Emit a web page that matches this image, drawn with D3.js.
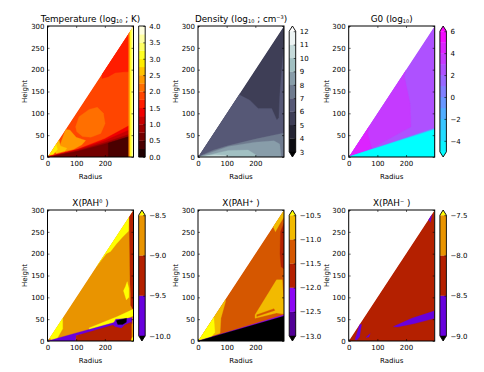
<!DOCTYPE html>
<html>
<head>
<meta charset="utf-8">
<script src="https://cdn.jsdelivr.net/npm/d3@7"></script>
<style>
  html, body { margin: 0; padding: 0; background: #fff; }
  text { font-family: "DejaVu Sans", sans-serif; fill: #000; }
</style>
</head>
<body>
<svg id="fig" width="484" height="372"></svg>
<script>
// axis ticks shared by all six panels
var radiusTicks = [0, 100, 200];
var heightTicks = [0, 50, 100, 150, 200, 250, 300];

// contour levels and colorbar labels for each quantity
var tempLevels = [0, 0.25, 0.5, 0.75, 1, 1.25, 1.5, 1.75, 2, 2.25, 2.5, 2.75, 3, 3.25, 3.5, 3.75, 4];
var tempTicks = [0, 0.5, 1, 1.5, 2, 2.5, 3, 3.5, 4];
var tempLabels = ["0.0", "0.5", "1.0", "1.5", "2.0", "2.5", "3.0", "3.5", "4.0"];
var densLevels = [3, 4, 5, 6, 7, 8, 9, 10, 11, 12];
var densTicks = [3, 4, 5, 6, 7, 8, 9, 10, 11, 12];
var densLabels = ["3", "4", "5", "6", "7", "8", "9", "10", "11", "12"];
var g0Levels = [-5, -4, -3, -2, -1, 0, 1, 2, 3, 4, 5, 6];
var g0Ticks = [-4, -2, 0, 2, 4, 6];
var g0Labels = ["\u22124", "\u22122", "0", "2", "4", "6"];
var pah0Levels = [-10, -9.5, -9, -8.5];
var pah0Labels = ["\u221210.0", "\u22129.5", "\u22129.0", "\u22128.5"];
var pahpLevels = [-13, -12.5, -12, -11.5, -11, -10.5];
var pahpLabels = ["\u221213.0", "\u221212.5", "\u221212.0", "\u221211.5", "\u221211.0", "\u221210.5"];
var pahmLevels = [-9, -8.5, -8, -7.5];
var pahmLabels = ["\u22129.0", "\u22128.5", "\u22128.0", "\u22127.5"];

// contour regions: [value, [[radius, height], ...]], painted in order
var tempRegions = [
  [1.9, [[0, 0], [300, 300], [300, 0]]],
  [1.6, [[190, 190], [285, 285], [285, 195], [268, 195], [236, 193], [212, 184], [190, 180]]],
  [2.1, [[98, 69], [110, 92], [145, 109], [174, 114], [195, 100], [201, 77], [186, 54], [151, 45], [122, 47], [102, 58]]],
  [2.4, [[63, 63], [78, 62], [100, 45], [133, 38], [120, 28], [90, 17], [60, 13], [40, 20]]],
  [2.6, [[20, 20], [40, 40], [45, 25], [68, 20], [60, 13], [30, 8]]],
  [2.9, [[4, 4], [30, 30], [35, 17], [20, 6]]],
  [1.4, [[0, 0], [105, 18], [200, 42], [285, 72], [285, 40]]],
  [1.1, [[0, 0], [105, 17], [200, 38], [285, 62], [285, 40]]],
  [0.9, [[0, 0], [105, 15], [200, 33], [285, 52], [285, 0], [5, 0]]],
  [0.6, [[25, 3], [105, 13], [200, 30], [285, 47], [285, 0], [20, 0]]],
  [0.4, [[212, 0], [212, 32], [285, 47], [285, 0]]],
  [2.4, [[283, 0], [283, 283], [300, 300], [300, 0]]],
  [3.1, [[288, 0], [288, 288], [300, 300], [300, 0]]],
  [3.6, [[294, 0], [294, 294], [300, 300], [300, 0]]]
];
var densRegions = [
  [5.5, [[0, 0], [300, 300], [300, 0]]],
  [6.5, [[0, 0], [146, 146], [146, 142], [181, 130], [210, 111], [257, 111], [275, 85], [282, 90], [285, 140], [292, 200], [300, 260], [300, 0]]],
  [7.5, [[0, 0], [50, 15], [100, 25], [150, 33], [200, 41], [250, 48], [300, 55], [300, 0]]],
  [8.5, [[10, 2], [60, 14], [106, 24], [199, 34], [265, 37], [285, 30], [290, 0], [10, 0]]],
  [9.5, [[20, 1], [60, 8], [106, 15], [175, 16], [200, 6], [205, 0]]],
  [10.5, [[8, 1], [60, 5], [95, 4], [110, 0], [5, 0]]]
];
var g0Regions = [
  [2.5, [[0, 0], [300, 300], [300, 0]]],
  [3.5, [[0, 0], [200, 200], [194, 185], [214, 123], [217, 69], [80, 20]]],
  [4.5, [[0, 0], [70, 70], [66, 54], [80, 20]]],
  [1.5, [[0, 0], [300, 67], [300, 0]]],
  [0.5, [[0, 0], [300, 66], [300, 0]]],
  [-0.5, [[0, 0], [300, 65], [300, 0]]],
  [-2.5, [[0, 0], [300, 64], [300, 0]]],
  [-4.5, [[0, 0], [300, 63], [300, 0]]],
  [-6, [[0, 0], [300, 62], [300, 0]]]
];
var pah0Regions = [
  [-8.75, [[0, 0], [300, 300], [300, 0]]],
  [-8, [[170, 170], [285, 285], [283, 252], [262, 238], [240, 222], [220, 205], [205, 200]]],
  [-9.25, [[285, 285], [300, 300], [300, 70], [290, 82], [290, 110], [288, 130], [287, 200]]],
  [-8, [[278, 136], [284, 120], [284, 100], [275, 94], [265, 115], [272, 125]]],
  [-8, [[8, 8], [53, 53], [53, 28], [33, 5], [14, 1]]],
  [-8, [[145, 30], [244, 56], [300, 73], [300, 58], [244, 44], [145, 26]]],
  [-9.75, [[0, 0], [295, 54], [295, 40], [100, 12], [98, 0]]],
  [-9.25, [[100, 0], [100, 12], [220, 35], [293, 47], [293, 0]]],
  [-9.75, [[238, 50], [293, 52], [293, 44], [270, 38], [258, 30], [235, 33], [228, 38]]],
  [-11, [[240, 47], [276, 52], [275, 43], [262, 38], [245, 38]]],
  [-8, [[292, 0], [300, 0], [300, 8], [295, 8]]]
];
var pahpRegions = [
  [-11.25, [[0, 0], [300, 300], [300, 0]]],
  [-10.75, [[0, 0], [96, 96], [96, 90], [80, 52], [77, 18]]],
  [-10, [[0, 0], [55, 55], [59, 20], [40, 4]]],
  [-10.75, [[199, 60], [274, 140], [294, 140], [300, 82], [300, 62], [274, 64], [199, 52]]],
  [-11.25, [[205, 60], [265, 74], [268, 70], [205, 56]]],
  [-11.75, [[288, 250], [300, 270], [300, 165], [290, 170], [286, 200]]],
  [-10.75, [[262, 262], [300, 300], [300, 284], [285, 268], [270, 250]]],
  [-12.25, [[0, 0], [300, 60], [300, 0]]],
  [-14, [[0, 0], [300, 57], [300, 0]]]
];
var pahmRegions = [
  [-8.25, [[0, 0], [300, 300], [300, 0]]],
  [-8.75, [[22, 3], [38, 38], [45, 38], [38, 10], [28, 2]]],
  [-8.75, [[156, 33], [220, 52], [300, 69], [300, 52], [230, 40], [170, 32]]],
  [-8.75, [[278, 278], [290, 290], [285, 272]]],
  [-8.75, [[60, 8], [75, 17], [70, 9]]]
];

// matplotlib colormaps
var hot = d3.scaleLinear().domain([0, 0.365, 0.746, 1]).range(["#0b0000", "#ff0000", "#ffff00", "#ffffff"]);
var bone = d3.scaleLinear().domain([0, 0.365, 0.746, 1]).range(["#000000", "#515171", "#a6c7c7", "#ffffff"]);
var cool = d3.scaleLinear().domain([0, 1]).range(["#00ffff", "#ff00ff"]);
function gnuplot(t) {
  return d3.rgb(255 * Math.sqrt(t), 255 * t * t * t, 255 * Math.max(0, Math.sin(2 * Math.PI * t))).formatRgb();
}

// size of the axes, colorbars sit 5 px right of them
var axW = 86, axH = 131;
var colX = [47.5, 198, 348.7];
var rowY = [26, 210];
var cbW = 6.5;

var panels = [
  { col: 0, row: 0, title: [["Temperature (log", 0], ["10", 1], [" ; K)", 0]], levels: tempLevels, ticks: tempTicks, labels: tempLabels, regions: tempRegions, cmap: hot, extend: false },
  { col: 1, row: 0, title: [["Density (log", 0], ["10", 1], [" ; cm", 0], ["\u22123", -1], [")", 0]], levels: densLevels, ticks: densTicks, labels: densLabels, regions: densRegions, cmap: bone, extend: true, under: "#000000", over: "#ffffff" },
  { col: 2, row: 0, title: [["G0 (log", 0], ["10", 1], [")", 0]], levels: g0Levels, ticks: g0Ticks, labels: g0Labels, regions: g0Regions, cmap: cool, extend: true, under: "#00ffff", over: "#ff00ff" },
  { col: 0, row: 1, title: [["X(PAH", 0], ["0", -1], [" )", 0]], levels: pah0Levels, ticks: pah0Levels, labels: pah0Labels, regions: pah0Regions, cmap: gnuplot, extend: true, under: "#000000", over: "#ffff00" },
  { col: 1, row: 1, title: [["X(PAH", 0], ["+", -1], [" )", 0]], levels: pahpLevels, ticks: pahpLevels, labels: pahpLabels, regions: pahpRegions, cmap: gnuplot, extend: true, under: "#000000", over: "#ffff00" },
  { col: 2, row: 1, title: [["X(PAH", 0], ["\u2212", -1], [" )", 0]], levels: pahmLevels, ticks: pahmLevels, labels: pahmLabels, regions: pahmRegions, cmap: gnuplot, extend: true, under: "#000000", over: "#ffff00" }
];

var svg = d3.select("#fig");
var line = d3.line();

// the simulated domain is the triangle under the diagonal
var x = d3.scaleLinear().domain([0, 300]).range([0, axW]);
var y = d3.scaleLinear().domain([0, 300]).range([axH, 0]);
svg.append("defs").append("clipPath").attr("id", "tri")
  .append("path")
  .attr("d", line([[0, 0], [300, 300], [300, 0]].map(function(d) { return [x(d[0]), y(d[1])]; })) + "Z");

panels.forEach(function(p, i) {
  var g = svg.append("g")
    .attr("transform", "translate(" + colX[p.col] + "," + rowY[p.row] + ")");

  // band colors are taken at the middle of each contour layer
  var n = p.levels.length - 1;
  var bandColors = d3.range(n).map(function(k) { return p.cmap((k + 0.5) / n); });
  var under = p.extend ? p.under : bandColors[0];
  var over = p.extend ? p.over : bandColors[n - 1];
  var color = d3.scaleThreshold()
    .domain(p.levels)
    .range([under].concat(bandColors, [over]));

  g.append("g").attr("clip-path", "url(#tri)")
    .selectAll("path")
    .data(p.regions)
    .enter()
    .append("path")
    .attr("d", function(d) {
      return line(d[1].map(function(c) { return [x(c[0]), y(c[1])]; })) + "Z";
    })
    .style("fill", function(d) { return color(d[0]); })
    .style("stroke", function(d) { return color(d[0]); })
    .style("stroke-width", 0.3);

  // axes with inward ticks on all four sides
  var xAxis = d3.axisBottom(x).tickValues(radiusTicks).tickSize(-2).tickPadding(4.5);
  var yAxis = d3.axisLeft(y).tickValues(heightTicks).tickSize(-2).tickPadding(3);
  var axG = [
    g.append("g").attr("transform", "translate(0," + axH + ")").call(xAxis),
    g.append("g").call(yAxis),
    g.append("g").call(d3.axisTop(x).tickValues(radiusTicks).tickSize(-2).tickFormat("")),
    g.append("g").attr("transform", "translate(" + axW + ",0)").call(d3.axisRight(y).tickValues(heightTicks).tickSize(-2).tickFormat(""))
  ];
  axG.forEach(function(a) {
    a.select(".domain").remove();
    a.selectAll("line").style("stroke", "#000").style("stroke-width", 0.6);
    a.selectAll("text").style("font-size", "7px").style("font-family", "DejaVu Sans");
  });

  g.append("rect")
    .attr("width", axW)
    .attr("height", axH)
    .style("fill", "none")
    .style("stroke", "#000")
    .style("stroke-width", 1);

  // title with sub and superscripts
  var title = g.append("text")
    .attr("x", axW / 2)
    .attr("y", -4.5)
    .attr("text-anchor", "middle")
    .style("font-size", "8.8px");
  var shift = 0;
  p.title.forEach(function(part) {
    var target = part[1] * (part[1] > 0 ? 1.7 : 3);
    title.append("tspan")
      .attr("dy", target - shift)
      .style("font-size", part[1] === 0 ? "8.8px" : "5px")
      .text(part[0]);
    shift = target;
  });

  g.append("text")
    .attr("x", axW / 2)
    .attr("y", axH + 21.5)
    .attr("text-anchor", "middle")
    .style("font-size", "7px")
    .text("Radius");
  g.append("text")
    .attr("transform", "translate(-22.5," + axH / 2 + ") rotate(-90)")
    .attr("text-anchor", "middle")
    .attr("dy", "0.35em")
    .style("font-size", "7px")
    .text("Height");

  // colorbar
  var cb = g.append("g").attr("transform", "translate(" + (axW + 5.2) + ",0)");
  var pad = p.extend ? 5.2 : 0;
  var cy = d3.scaleLinear()
    .domain([p.levels[0], p.levels[n]])
    .range([axH - pad, pad]);
  cb.selectAll("rect")
    .data(d3.range(n))
    .enter()
    .append("rect")
    .attr("x", 0)
    .attr("width", cbW)
    .attr("y", function(k) { return cy(p.levels[k + 1]); })
    .attr("height", function(k) { return cy(p.levels[k]) - cy(p.levels[k + 1]) + 0.2; })
    .style("fill", function(k) { return bandColors[k]; });

  var outline;
  if (p.extend) {
    cb.append("path").attr("d", line([[0, pad], [cbW / 2, 0], [cbW, pad]]) + "Z").style("fill", over);
    cb.append("path").attr("d", line([[0, axH - pad], [cbW / 2, axH], [cbW, axH - pad]]) + "Z").style("fill", under);
    outline = [[0, pad], [cbW / 2, 0], [cbW, pad], [cbW, axH - pad], [cbW / 2, axH], [0, axH - pad]];
  } else {
    outline = [[0, 0], [cbW, 0], [cbW, axH], [0, axH]];
  }
  cb.append("path")
    .attr("d", line(outline) + "Z")
    .style("fill", "none")
    .style("stroke", "#000")
    .style("stroke-width", 0.9);

  var cbAxis = d3.axisRight(cy)
    .tickValues(p.ticks)
    .tickSize(-2)
    .tickPadding(4)
    .tickFormat(function(d, k) { return p.labels[k]; });
  var cbG = cb.append("g").attr("transform", "translate(" + cbW + ",0)").call(cbAxis);
  cbG.select(".domain").remove();
  cbG.selectAll("line").style("stroke", "#000").style("stroke-width", 0.6);
  cbG.selectAll("text").style("font-size", "7px").style("font-family", "DejaVu Sans");
});
</script>
</body>
</html>
